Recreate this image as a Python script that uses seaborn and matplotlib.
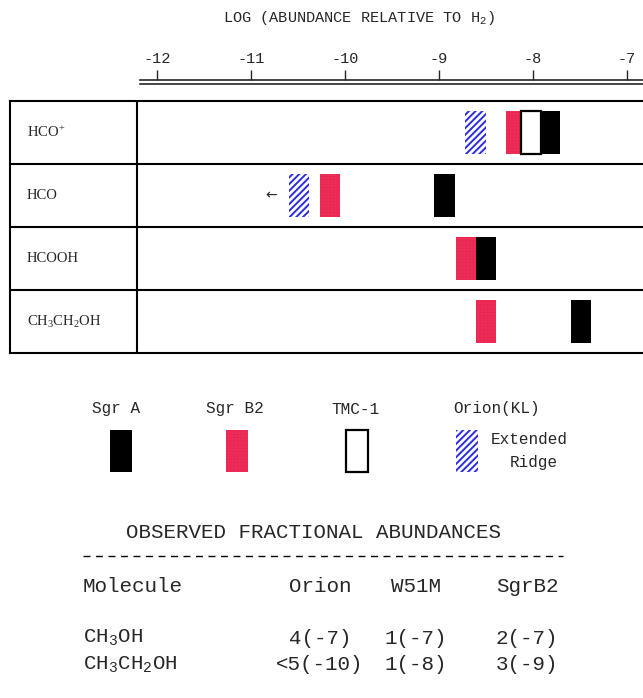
import numpy as np
import seaborn as sns
import matplotlib.pyplot as plt
from matplotlib.patches import Rectangle

# chart data (log abundance relative to H2)
molecules = ['HCO$^{+}$', 'HCO', 'HCOOH', 'CH$_3$CH$_2$OH']
sgr_a = [-7.82, -8.94, -8.50, -7.49]
sgr_b2 = [-8.18, -10.16, -8.71, -8.50]
tmc_1 = [-8.02, np.nan, np.nan, np.nan]
orion_kl = [-8.61, -10.49, np.nan, np.nan]
upper_limit = [False, True, False, False]   # arrow pointing to lower values
ticks = [-12, -11, -10, -9, -8, -7]

# observed fractional abundances table
tab_header = ['Molecule', 'Orion', 'W51M', 'SgrB2']
tab_molecules = ['CH$_3$OH', 'CH$_3$CH$_2$OH']
tab_orion = ['4(-7)', '<5(-10)']
tab_w51m = ['1(-7)', '1(-8)']
tab_sgrb2 = ['2(-7)', '3(-9)']

sns.set_style('white')
plt.rcParams['font.family'] = ['Liberation Mono', 'DejaVu Sans']
plt.rcParams['mathtext.default'] = 'regular'
plt.rcParams['axes.unicode_minus'] = False
plt.rcParams['hatch.linewidth'] = 1.4

W, H = 643, 698
fig = plt.figure(figsize=(W / 100, H / 100), dpi=100)


def fbox(x0, y0, x1, y1):
    return [x0 / W, 1 - y1 / H, (x1 - x0) / W, (y1 - y0) / H]


PX_DEC, PX_M12 = 94.0, 157.0


def lim(x0, x1):
    return (-12 + (x0 - PX_M12) / PX_DEC, -12 + (x1 - PX_M12) / PX_DEC)


RED = '#e91b4b'
BLUE = '#2b2be6'
styles = {
    'Sgr B2': dict(facecolor=RED, edgecolor='#f03a62', hatch='......', linewidth=0),
    'TMC-1': dict(facecolor='white', edgecolor='black', linewidth=1.6),
    'Sgr A': dict(facecolor='black', edgecolor='black', linewidth=0),
    'Orion(KL)': dict(facecolor='white', edgecolor=BLUE, hatch='/////', linewidth=0),
}

# main table of bars
ax = fig.add_axes(fbox(10, 101, 643, 353))
ax.set_xlim(lim(10, 643))
ax.set_ylim(len(molecules) - 0.5, -0.5)
ax.set_xticks([])
ax.set_yticks([])
for s in ['top', 'left', 'bottom']:
    ax.spines[s].set_linewidth(1.5)
    ax.spines[s].set_color('black')
ax.spines['right'].set_visible(False)
for i in range(1, len(molecules)):
    ax.axhline(i - 0.5, color='black', lw=1.5)
ax.axvline(lim(10, 643)[0] + (137 - 10) / PX_DEC, color='black', lw=1.5)

ypos = np.arange(len(molecules))
bw, bh = 0.22, 0.67
for name, vals in [('Orion(KL)', orion_kl), ('Sgr B2', sgr_b2),
                   ('TMC-1', tmc_1), ('Sgr A', sgr_a)]:
    vals = np.asarray(vals, dtype=float)
    m = ~np.isnan(vals)
    ax.bar(vals[m], bh, width=bw, bottom=ypos[m] - bh / 2, **styles[name])

for i, lab in enumerate(molecules):
    ax.text(0.027, i, lab, transform=ax.get_yaxis_transform(), va='center',
            ha='left', fontsize=10.5, family=['Liberation Serif', 'DejaVu Serif'])
    if upper_limit[i]:
        xs = [v for v in (orion_kl[i], sgr_b2[i]) if not np.isnan(v)]
        ax.text(min(xs) - 0.3, i, '\u2190', ha='center', va='center',
                fontsize=10, family='DejaVu Sans')

# log scale on top
sc = fig.add_axes(fbox(140, 80, 643, 83.5))
sc.set_xlim(lim(140, 643))
sc.set_yticks([])
sc.spines['left'].set_visible(False)
sc.spines['right'].set_visible(False)
sc.spines['top'].set_linewidth(1.2)
sc.spines['bottom'].set_linewidth(1.2)
sc.xaxis.tick_top()
sc.set_xticks(ticks)
sc.set_xticklabels([str(t) for t in ticks], fontsize=11)
sc.tick_params(axis='x', direction='out', length=7, width=1, pad=3,
               bottom=False, top=True)
fig.text(359 / W, 1 - 18 / H, 'LOG (ABUNDANCE RELATIVE TO H$_2$)',
         ha='center', va='center', fontsize=11)

# overlay for legend and text table (pixel coordinates)
ov = fig.add_axes([0, 0, 1, 1], facecolor='none')
ov.set_xlim(0, W)
ov.set_ylim(H, 0)
ov.axis('off')

legend_items = [('Sgr A', 116, 121), ('Sgr B2', 235, 237),
                ('TMC-1', 355, 357), ('Orion(KL)', 497, 467)]
for name, lx, bx in legend_items:
    ov.text(lx, 409, name, ha='center', va='center', fontsize=11.5)
    ov.add_patch(Rectangle((bx - 11, 430), 22, 42, **styles[name]))
ov.text(529, 440, 'Extended', ha='center', va='center', fontsize=11.5)
ov.text(534, 462, 'Ridge', ha='center', va='center', fontsize=11.5)

ov.text(313, 533, 'OBSERVED FRACTIONAL ABUNDANCES', ha='center', va='center',
        fontsize=15)
ov.plot([83, 563], [556, 556], color='black', lw=1, dashes=(5, 4))

col_x = [83, 320, 416, 527]
ov.text(col_x[0], 586, tab_header[0], ha='left', va='center', fontsize=15)
for x, lab in zip(col_x[1:], tab_header[1:]):
    ov.text(x, 586, lab, ha='center', va='center', fontsize=15)
for j, y in enumerate([638, 665]):
    ov.text(col_x[0], y, tab_molecules[j], ha='left', va='center', fontsize=15)
    for x, col in zip(col_x[1:], [tab_orion, tab_w51m, tab_sgrb2]):
        ov.text(x, y, col[j], ha='center', va='center', fontsize=15)

fig.savefig('out.png', dpi=100)
